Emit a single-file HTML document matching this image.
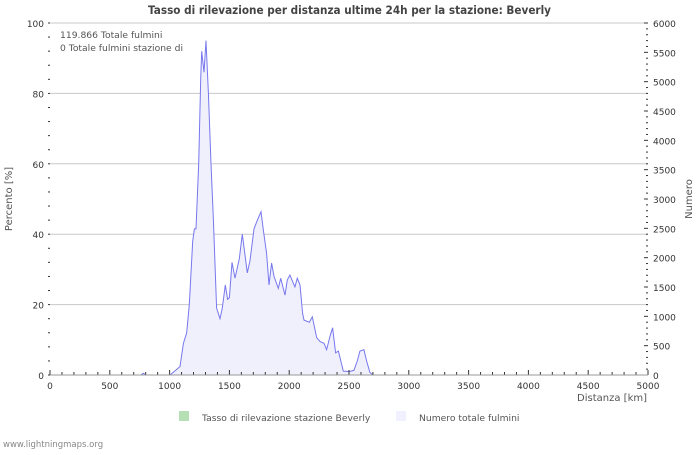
<!DOCTYPE html>
<html><head><meta charset="utf-8"><style>
body{margin:0;background:#fff;width:700px;height:450px;overflow:hidden}
svg text{font-family:"DejaVu Sans","Liberation Sans",sans-serif}
</style></head><body>
<svg id="c" width="700" height="450">
<text x="148" y="14" font-size="11.5" font-weight="bold" fill="#444" textLength="403" lengthAdjust="spacingAndGlyphs">Tasso di rilevazione per distanza ultime 24h per la stazione: Beverly</text>
<g id="grid"></g><g id="series"></g><g id="axes"></g>
<text x="60" y="38" font-size="9.2" fill="#555">119.866 Totale fulmini</text>
<text x="60" y="51" font-size="9.2" fill="#555">0 Totale fulmini stazione di</text>
<text x="12" y="199" font-size="10" fill="#555" text-anchor="middle" transform="rotate(-90 12 199)">Percento   [%]</text>
<text x="692" y="199" font-size="10" fill="#555" text-anchor="middle" transform="rotate(-90 692 199)">Numero</text>
<text x="647" y="401" font-size="10" fill="#555" text-anchor="end">Distanza   [km]</text>
<rect x="179" y="411" width="10" height="10" fill="#b5e0b5"/>
<text x="202" y="421" font-size="9.2" fill="#555">Tasso di rilevazione stazione Beverly</text>
<rect x="396" y="411" width="10" height="10" fill="#f0f0ff"/>
<text x="419" y="421" font-size="9.2" fill="#555">Numero totale fulmini</text>
<text x="3" y="447" font-size="8.5" fill="#888">www.lightningmaps.org</text>
</svg>
<script>
const distKm=[0,760,780,800,948,1003,1087,1115,1143,1165,1193,1207,1221,1243,1260,1268,1288,1304,1324,1346,1366,1393,1421,1441,1466,1485,1500,1522,1547,1583,1608,1650,1672,1706,1734,1764,1783,1811,1831,1853,1873,1909,1929,1965,1984,2006,2048,2068,2090,2112,2124,2168,2193,2230,2258,2291,2313,2341,2363,2388,2411,2452,2502,2541,2569,2591,2625,2647,2675,2703,5000];
const totalPct=[0,0,0.5,0,0,0,2.4,9,12,20,38,41.5,41.5,60,84,92,86,95,80,60,44,19,16,19,25.6,21.5,22,32,27.5,33,40,29,32.5,41.5,44,46.4,41.5,34.5,25.6,31.8,28,24.6,27.5,22.7,27,28.4,25,27.5,25.6,17.5,15.6,15,16.5,10.6,9.5,9,7.2,11,13.4,6.3,6.8,1.1,1,1.3,4,6.8,7.2,4,0.7,0,0];
const stationPct=distKm.map(()=>0);
const leftTicks=[0,20,40,60,80,100];
const rightTicks=[0,500,1000,1500,2000,2500,3000,3500,4000,4500,5000,5500,6000];
const xTicks=[0,500,1000,1500,2000,2500,3000,3500,4000,4500,5000];
const X0=50,X1=648,Y0=375,Y1=23;
const xs=k=>X0+(X1-X0)*k/5000, yl=p=>Y0-(Y0-Y1)*p/100, yr=n=>Y0-(Y0-Y1)*n/6000;
const NS='http://www.w3.org/2000/svg';
function mk(t,a,p){const e=document.createElementNS(NS,t);for(const k in a)e.setAttribute(k,a[k]);p.appendChild(e);return e;}
const grid=document.getElementById('grid'),ser=document.getElementById('series'),ax=document.getElementById('axes');
leftTicks.forEach(v=>{if(v>0){const g=mk('line',{x1:X0,x2:X1,y1:yl(v),y2:yl(v),stroke:'#c8c8c8'},grid);

}
const t=mk('text',{x:44,y:yl(v)+4,'font-size':9,fill:'#333','text-anchor':'end'},ax);t.textContent=v;

});
for(let v=0;v<=100;v+=4){mk('line',{x1:X0-2,x2:X0,y1:yl(v),y2:yl(v),stroke:'#333'},ax);}
rightTicks.forEach(v=>{const t=mk('text',{x:X1+5,y:yr(v)+4,'font-size':9,fill:'#333'},ax);t.textContent=v;

});
for(let v=0;v<=6000;v+=100){mk('line',{x1:X1-(v%500?2:4),x2:X1,y1:yr(v),y2:yr(v),stroke:'#333'},ax);}
xTicks.forEach(v=>{const t=mk('text',{x:xs(v),y:389,'font-size':9,fill:'#333','text-anchor':'middle'},ax);t.textContent=v;

});
for(let v=0;v<=5000;v+=100){mk('line',{x1:xs(v),x2:xs(v),y1:Y0,y2:Y0-(v%500?3:5),stroke:'#333'},ax);}
mk('line',{x1:X0,x2:X1,y1:Y0,y2:Y0,stroke:'#999'},ax);
let pts=distKm.map((k,i)=>xs(k).toFixed(1)+','+yl(totalPct[i]).toFixed(1));
const area=mk('polygon',{points:xs(0)+','+Y0+' '+pts.join(' ')+' '+xs(5000)+','+Y0,fill:'#f0f0fc',stroke:'none'},ser);


const line=mk('polyline',{points:pts.join(' '),fill:'none',stroke:'#7777ee','stroke-width':1},ser);


const sl=mk('polyline',{points:distKm.map((k,i)=>xs(k)+','+yl(stationPct[i])).join(' '),fill:'none',stroke:'#b5e0b5','stroke-width':0},ser);


</script>
</body></html>
